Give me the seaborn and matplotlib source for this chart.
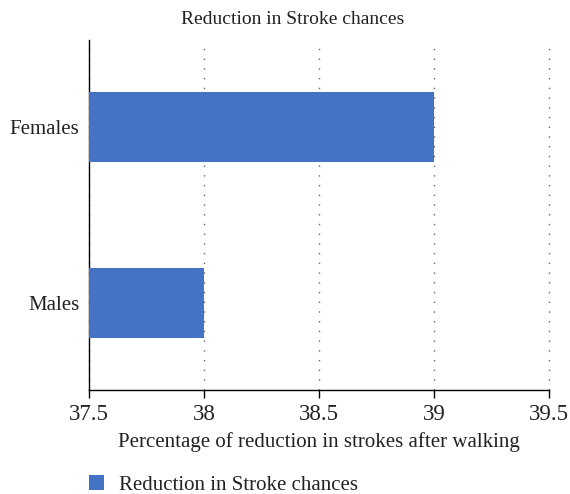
import matplotlib
matplotlib.use("Agg")
import matplotlib.pyplot as plt
import seaborn as sns
import pandas as pd

groups = ["Females", "Males"]
reduction = [39, 38]
series_name = "Reduction in Stroke chances"
x_ticks = [37.5, 38, 38.5, 39, 39.5]
x_tick_labels = ["37.5", "38", "38.5", "39", "39.5"]

df = pd.DataFrame({"group": groups, "value": reduction})

sns.set_style("white")
plt.rcParams["font.family"] = ["Liberation Serif", "DejaVu Serif"]

fig = plt.figure(figsize=(5.7, 4.94), dpi=100)
ax = fig.add_axes([89 / 570, 1 - 390 / 494, 460 / 570, 350 / 494])

sns.barplot(data=df, x="value", y="group", orient="h", color="#4472C4",
            saturation=1, width=0.4, ax=ax, label=series_name, zorder=3,
            linewidth=0)

ax.set_xlim(37.5, 39.5)
ax.set_ylim(1.5, -0.5)
ax.set_xticks(x_ticks)
ax.set_xticklabels(x_tick_labels)
ax.grid(axis="x", color="#666666", linestyle=(0, (1, 6)), linewidth=1.0, zorder=0)
ax.grid(axis="y", visible=False)
for gl in ax.get_xgridlines():
    gl.set_clip_on(False)

for s in ["top", "right"]:
    ax.spines[s].set_visible(False)
for s in ["left", "bottom"]:
    ax.spines[s].set_color("black")
    ax.spines[s].set_linewidth(1.0)

ax.tick_params(axis="x", bottom=True, length=6, width=1, color="black",
               labelsize=16.5, pad=4, labelcolor="#222222")
ax.tick_params(axis="y", left=False, length=0, labelsize=15, pad=7,
               labelcolor="#222222")

fig.text(293 / 570, 1 - 19 / 494, "Reduction in Stroke chances", fontsize=14,
         ha="center", va="center", color="#222222")
ax.set_xlabel("Percentage of reduction in strokes after walking", fontsize=15,
              labelpad=5, color="#222222")
ax.set_ylabel("")

ax.legend().remove()
handles, labels = ax.get_legend_handles_labels()
fig.legend(handles[:1], labels[:1], loc="lower left",
           bbox_to_anchor=(70 / 570, -0.04),
           frameon=False, fontsize=15, handlelength=0.75, handleheight=0.75,
           handletextpad=0.7, labelcolor="#222222")

fig.savefig("out.png", dpi=100)
